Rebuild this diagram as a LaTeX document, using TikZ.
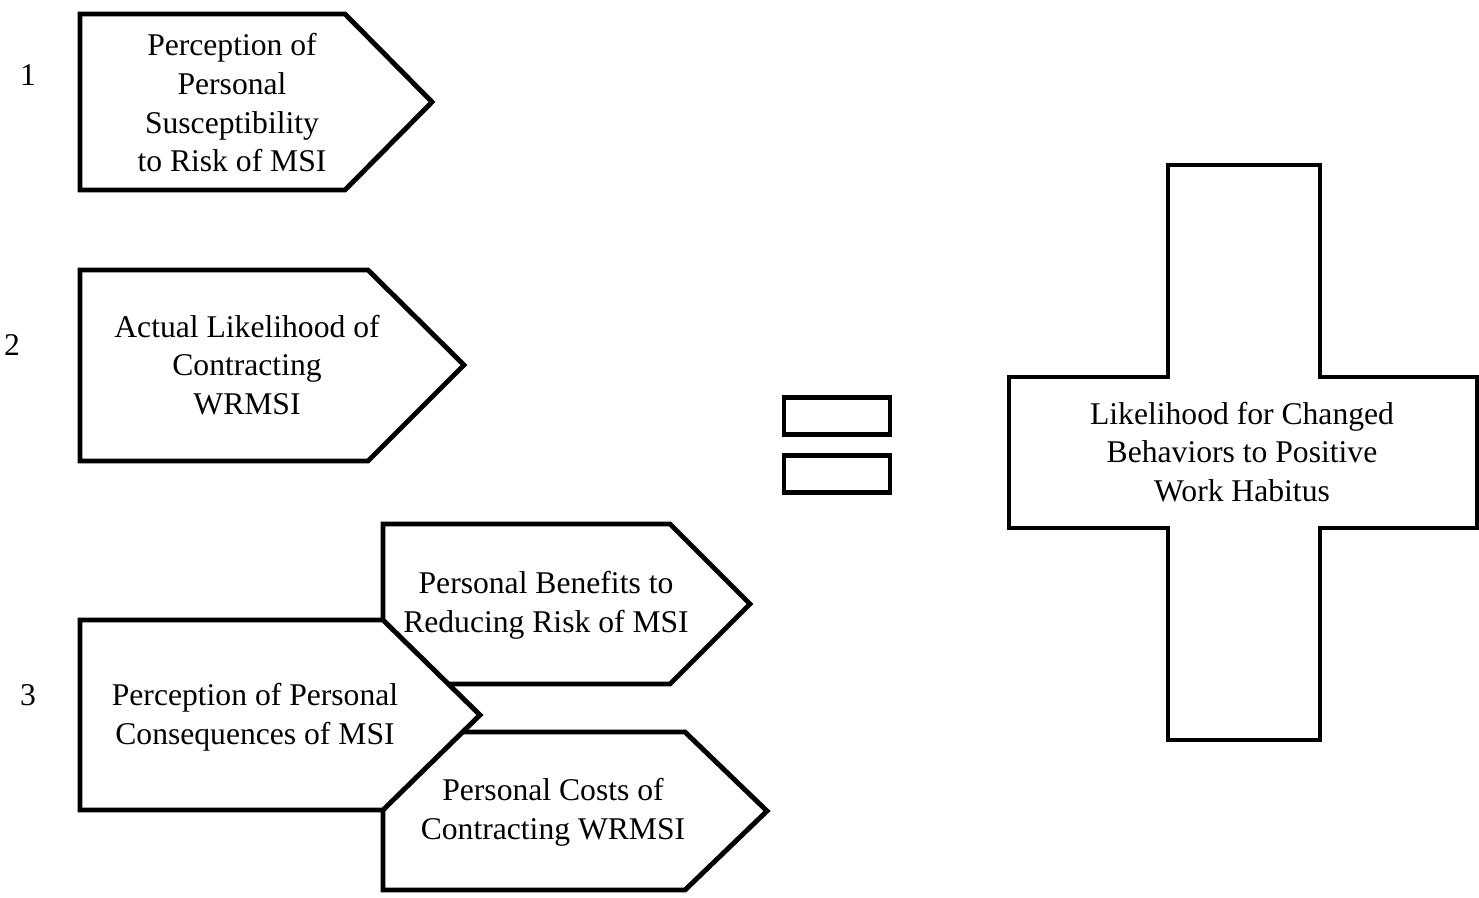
\documentclass[tikz,border=0pt]{standalone}
\usepackage{fontspec}
\setmainfont{Liberation Serif}
\usepackage{tikz}
\tikzstyle{outline} = [line width=2.8pt, draw=black, fill=white, line join=miter]
\tikzstyle{label} = [align=center, font=\fontsize{18}{22}\selectfont, inner sep=0pt]
\tikzstyle{number} = [font=\fontsize{18}{22}\selectfont, inner sep=0pt]
\tikzstyle{bar} = [rectangle, line width=2.8pt, draw=black, minimum width=106*0.02cm, minimum height=37*0.02cm]

\begin{document}
\begin{tikzpicture}[x=0.02cm, y=-0.02cm]
    \useasboundingbox (0,0) rectangle (1479,898);

    % Place arrow shapes
    \draw [outline] (80,14) -- (345,14) -- (432,102) -- (345,190) -- (80,190) -- cycle;
    \draw [outline] (80,270) -- (368,270) -- (464,365) -- (368,461) -- (80,461) -- cycle;
    \draw [outline] (383,524) -- (670,524) -- (750,604) -- (670,684) -- (383,684) -- cycle;
    \draw [outline] (383,732) -- (685,732) -- (767,811) -- (685,890) -- (383,890) -- cycle;
    \draw [outline] (80,620) -- (383,620) -- (480,715) -- (383,810) -- (80,810) -- cycle;

    % Place texts
    \node (susceptibility) [label] at (232,103) {Perception of\\Personal\\Susceptibility\\to Risk of MSI};
    \node (likelihood) [label] at (247,365) {Actual Likelihood of\\Contracting\\WRMSI};
    \node (benefits) [label] at (546,605) {Personal Benefits to\\Reducing Risk of MSI};
    \node (consequences) [label] at (255,717) {Perception of Personal\\Consequences of MSI};
    \node (costs) [label] at (553,812) {Personal Costs of\\Contracting WRMSI};

    \node (one) [number] at (28,75) {1};
    \node (two) [number] at (12,345) {2};
    \node (three) [number] at (28,695) {3};

    % Equals sign
    \node (eqtop) [bar] at (837,416) {};
    \node (eqbot) [bar] at (837,474) {};

    % Plus sign
    \draw [outline] (1168,165) -- (1320,165) -- (1320,377) -- (1477,377) -- (1477,528)
        -- (1320,528) -- (1320,740) -- (1168,740) -- (1168,528) -- (1009,528)
        -- (1009,377) -- (1168,377) -- cycle;
    \node (habitus) [label] at (1242,452) {Likelihood for Changed\\Behaviors to Positive\\Work Habitus};
\end{tikzpicture}
\end{document}
